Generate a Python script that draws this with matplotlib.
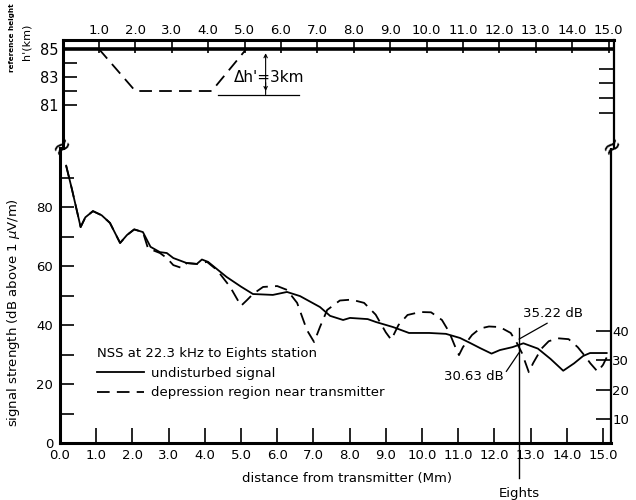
import matplotlib.pyplot as plt
import matplotlib.ticker as mticker

# signal strength along the path, distance in Mm, level in dB above 1 uV/m
undisturbed_x = [0.17, 0.33, 0.57, 0.7, 0.91, 1.15, 1.38, 1.66, 1.85, 2.05, 2.29, 2.5,
                 2.76, 2.95, 3.13, 3.5, 3.78, 3.92, 4.09, 4.6, 5.0, 5.33, 5.88, 6.27,
                 6.63, 7.18, 7.46, 7.82, 8.01, 8.5, 8.73, 9.2, 9.64, 10.2, 10.66, 11.05,
                 11.33, 11.6, 11.92, 12.15, 12.5, 12.8, 13.2, 13.55, 13.9, 14.2, 14.45,
                 14.64, 15.1]
undisturbed_db = [94, 86, 73.2, 76.5, 78.6, 77.2, 74.6, 67.8, 70.5, 72.4, 71.5, 66.5,
                  64.7, 64.4, 62.7, 61.0, 60.7, 62.2, 61.4, 56.3, 53.0, 50.5, 50.2, 51.2,
                  49.8, 46.1, 43.1, 41.7, 42.4, 42.0, 41.0, 39.3, 37.3, 37.3, 37.0, 35.6,
                  33.9, 32.2, 30.3, 31.5, 32.5, 33.8, 32.0, 28.5, 24.5, 27.0, 29.5,
                  30.5, 30.5]

depression_x = [0.17, 0.33, 0.57, 0.7, 0.91, 1.15, 1.38, 1.66, 1.85, 2.05, 2.29, 2.43,
                2.76, 2.95, 3.13, 3.37, 3.5, 3.78, 4.06, 4.34, 4.7, 5.0, 5.17, 5.33,
                5.61, 6.0, 6.27, 6.55, 6.82, 7.02, 7.18, 7.38, 7.73, 8.05, 8.4, 8.72,
                9.0, 9.15, 9.35, 9.6, 9.95, 10.25, 10.55, 10.75, 10.92, 11.02, 11.13,
                11.38, 11.6, 11.85, 12.15, 12.45, 12.62, 12.76, 12.95, 13.07, 13.3,
                13.5, 13.75, 14.05, 14.3, 14.5, 14.65, 14.85, 15.0, 15.1]
depression_db = [94, 86, 73.2, 76.5, 78.6, 77.2, 74.6, 67.8, 70.5, 72.4, 71.5, 66.0,
                 64.4, 62.7, 60.3, 59.3, 61.0, 60.7, 61.4, 58.6, 52.9, 46.5, 48.5, 50.5,
                 52.9, 53.2, 51.9, 47.5, 38.3, 34.2, 39.3, 45.1, 48.3, 48.6, 47.5, 43.5,
                 37.5, 35.0, 40.0, 43.4, 44.4, 44.3, 41.7, 37.6, 32.5, 29.8, 32.5,
                 36.6, 38.8, 39.5, 39.3, 37.3, 33.9, 30.5, 24.0, 27.1, 32.0,
                 34.5, 35.5, 35.2, 32.5, 29.5, 27.0, 24.2, 26.5, 29.0]

# reference height h' (km)
ref_height_x = [0.0, 15.15]
ref_height_km = [85, 85]
depressed_x = [1.0, 2.0, 4.1, 5.05]
depressed_km = [85, 82, 82, 85]

eights_x = 12.68
eights_undisturbed = 35.22
eights_depressed = 30.63

dist_ticks = list(range(0, 16))
dist_labels = [f"{d}.0" for d in dist_ticks]

plt.rcParams["font.family"] = ["DejaVu Sans"]
plt.rcParams["font.size"] = 9.5

fig = plt.figure(figsize=(6.36, 5.0), dpi=100)
ax = fig.add_axes([60 / 636, 57 / 500, 551 / 636, 295 / 500])
ax_top = fig.add_axes([62.5 / 636, 352 / 500, 551.5 / 636, 108 / 500])

# ---- lower panel: signal strength ----
(line_u,) = ax.plot(undisturbed_x, undisturbed_db, color="black", lw=1.3,
                    label="undisturbed signal")
(line_d,) = ax.plot(depression_x, depression_db, color="black", lw=1.3,
                    dashes=(7, 4), label="depression region near transmitter")

ax.set_xlim(0, 15.22)
ax.set_ylim(0, 100)
for side in ["left", "bottom"]:
    ax.spines[side].set_linewidth(2.2)
ax.spines["right"].set_linewidth(1.6)
ax.spines["top"].set_visible(False)

ax.set_xticks(dist_ticks)
ax.set_xticklabels(dist_labels)
ax.set_yticks([0, 20, 40, 60, 80])
ax.yaxis.set_minor_locator(mticker.FixedLocator([10, 30, 50, 70, 90]))
ax.tick_params(axis="x", direction="in", length=11, width=1.2, pad=4)
ax.tick_params(axis="y", which="both", direction="in", length=10, width=1.2,
               pad=5, left=True, right=False)
ax.set_xlabel("distance from transmitter (Mm)")
ax.xaxis.set_label_coords(0.52, -0.097)
ax.set_ylabel("signal strength (dB above 1 $\\mu$V/m)")
ax.yaxis.set_label_coords(-0.069, 0.443)

sec = ax.secondary_yaxis("right", functions=(lambda v: v + 2, lambda v: v - 2))
sec.set_yticks([10, 20, 30, 40])
sec.tick_params(direction="in", length=11, width=1.2, pad=1)
sec.spines["right"].set_visible(False)

leg = ax.legend(handles=[line_u, line_d], title="NSS at 22.3 kHz to Eights station",
                loc="lower left", bbox_to_anchor=(0.045, 0.108), frameon=False,
                handlelength=3.6, handletextpad=0.5, labelspacing=0.5,
                alignment="left", title_fontsize=9.5)

# Eights station marker and annotations
ax.plot([eights_x, eights_x], [39, -12], color="black", lw=1.0, clip_on=False)
ax.text(eights_x, -17, "Eights", ha="center", va="center")
ax.annotate("35.22 dB", xy=(eights_x, eights_undisturbed), xytext=(12.8, 44),
            ha="left", va="center",
            arrowprops=dict(arrowstyle="-", lw=0.9, shrinkA=1, shrinkB=0,
                            relpos=(0.5, 0.0)))
ax.annotate("30.63 dB", xy=(eights_x, eights_depressed), xytext=(12.25, 22.4),
            ha="right", va="center",
            arrowprops=dict(arrowstyle="-", lw=0.9, shrinkA=0, shrinkB=0,
                            relpos=(1.0, 0.6)))

# ---- upper panel: reference height ----
ax_top.plot(ref_height_x, ref_height_km, color="black", lw=2.6, solid_capstyle="butt")
ax_top.plot(depressed_x, depressed_km, color="black", lw=1.3, dashes=(7, 4))

ax_top.set_xlim(0, 15.15)
ax_top.set_ylim(77.93, 85.643)
ax_top.spines["bottom"].set_visible(False)
for side in ["left", "top"]:
    ax_top.spines[side].set_linewidth(2.2)
ax_top.spines["right"].set_linewidth(1.6)

ax_top.set_xticks(dist_ticks[1:])
ax_top.set_xticklabels(dist_labels[1:])
ax_top.tick_params(axis="x", top=True, bottom=False, labeltop=True, labelbottom=False,
                   direction="in", length=9.5, width=1.2, pad=2)
ax_top.set_yticks([85, 83, 81])
ax_top.yaxis.set_minor_locator(mticker.FixedLocator([84, 82]))
ax_top.tick_params(axis="y", which="both", direction="in", length=10, width=1.2,
                   pad=3, right=False, labelsize=10.5)

sec_top = ax_top.secondary_yaxis("right")
sec_top.set_yticks([83.6, 82.55, 81.5, 80.45])
sec_top.set_yticklabels([])
sec_top.tick_params(direction="in", length=11, width=1.2)
sec_top.spines["right"].set_visible(False)

# delta h' indicator
ax_top.plot([4.28, 6.5], [81.75, 81.75], color="black", lw=0.9)
ax_top.annotate("", xy=(5.58, 84.7), xytext=(5.58, 81.75),
                arrowprops=dict(arrowstyle="->", lw=0.8, shrinkA=0, shrinkB=0,
                                mutation_scale=6))
ax_top.annotate("", xy=(5.58, 82.0), xytext=(5.58, 82.6),
                arrowprops=dict(arrowstyle="->", lw=0.8, shrinkA=0, shrinkB=0,
                                mutation_scale=6))
ax_top.text(4.72, 83.0, "\u0394h'=3km", ha="left", va="center", fontsize=11)

fig.text(12 / 636, 1 - 38 / 500, "reference height", rotation=90, ha="center",
         va="center", fontsize=5.2, fontweight="bold")
fig.text(26 / 636, 1 - 42 / 500, "h'(km)", rotation=90, ha="center", va="center",
         fontsize=8)

# axis break marks
for bx in [62, 612]:
    fig.text(bx / 636, 1 - 146 / 500, "\u2248", rotation=40, ha="center",
             va="center", fontsize=17)

fig.savefig("out.png", dpi=100)
